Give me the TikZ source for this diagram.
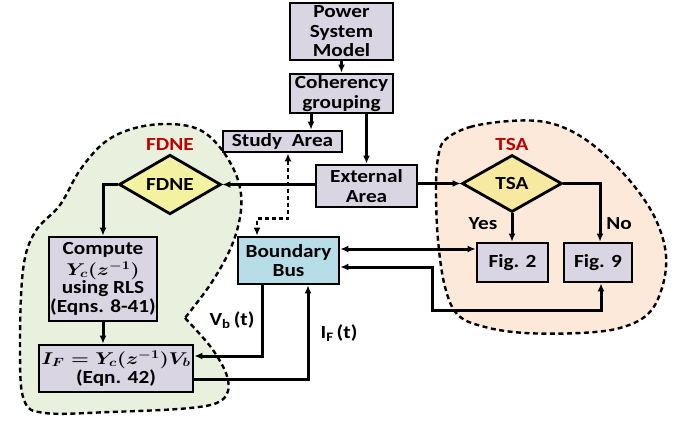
\RequirePackage{fix-cm}
\documentclass[tikz,border=0pt]{standalone}
\usepackage{amsmath}
\usepackage{fontspec}
\setmainfont{Carlito}[FakeStretch=1.15]
\usetikzlibrary{shapes.geometric,arrows.meta,calc}
\definecolor{boxfill}{RGB}{218,213,226}
\definecolor{busfill}{RGB}{183,222,232}
\definecolor{dmdfill}{RGB}{242,242,160}
\definecolor{tsafill}{RGB}{247,234,160}
\definecolor{greenblob}{RGB}{233,240,222}
\definecolor{peachblob}{RGB}{252,233,218}
\definecolor{redlbl}{RGB}{192,0,0}
\newcommand\mytxt{\fontsize{18.5}{19.5}\selectfont\bfseries}
\newcommand\mymath[1]{\scalebox{1.2}[1]{\fontsize{17}{18}\selectfont\mathversion{bold}$#1$}}
\begin{document}
\begin{tikzpicture}[x=1pt,y=-1pt,
  box/.style={draw, line width=2.8pt, fill=boxfill, align=center, inner sep=0pt, font=\mytxt},
  dmd/.style={draw, diamond, line width=2.8pt, fill=dmdfill, inner sep=0pt, font=\mytxt},
  arr/.style={line width=3pt, -{Latex[length=8pt,width=7pt]}},
  darr/.style={line width=3pt, {Latex[length=8pt,width=7pt]}-{Latex[length=8pt,width=7pt]}},
  ddarr/.style={line width=2.8pt, dash pattern=on 4pt off 3pt, {Latex[length=8pt,width=7pt]}-{Latex[length=8pt,width=7pt]}},
  blob/.style={line width=2.4pt, dash pattern=on 5pt off 3.5pt},
  lbl/.style={font=\mytxt, inner sep=0pt},
  rlbl/.style={font=\mytxt, text=redlbl, inner sep=0pt}]
\useasboundingbox (0,0) rectangle (677,422);

% regions
\draw[blob, fill=greenblob] plot[smooth, tension=0.6] coordinates {
 (185,318) (213,350) (228,380) (222,400) (190,408) (110,412) (45,413) (24,400)
 (20,350) (23,270) (35,232) (60,205) (80,170) (105,142) (135,128) (170,124)
 (200,130) (222,150) (238,180) (241,210) (232,245) (212,282) (185,318)} -- cycle;
\draw[blob, fill=peachblob] plot[smooth cycle, tension=0.6] coordinates {
 (445,140) (470,127) (510,121) (545,122) (575,133) (605,155) (635,187) (656,220)
 (666,255) (662,288) (648,314) (620,328) (580,333) (525,333) (485,327) (458,315)
 (445,287) (438,240) (436,190) (438,158)};

% nodes
\node[box, minimum width=103pt, minimum height=57pt] (psm) at (341.5,31.5) {Power\\System\\Model};
\node[box, minimum width=103pt, minimum height=39pt] (coh) at (341.5,93.5) {Coherency\\grouping};
\node[box, minimum width=119pt, minimum height=21pt] (study) at (282.5,141.5) {Study~~Area};
\node[box, minimum width=101pt, minimum height=42pt] (ext) at (366.5,186) {External\\Area};
\node[dmd, minimum width=102pt, minimum height=59pt] (fdne) at (170,184.5) {FDNE};
\node[dmd, fill=tsafill, minimum width=100pt, minimum height=57pt] (tsa) at (512,183.5) {TSA};
\node[box, minimum width=108pt, minimum height=84pt] (comp) at (103,279) {Compute\\[1.5pt] \mymath{Y_c(z^{-1})}\\[-1.5pt] using RLS\\[0pt](Eqns. 8-41)};
\node[box, minimum width=154pt, minimum height=47pt] (ifn) at (116,368.5) {\mymath{I_F = Y_c(z^{-1})V_b}\\(Eqn. 42)};
\node[box, fill=busfill, minimum width=101pt, minimum height=47pt] (bus) at (288.5,260.5) {Boundary\\Bus};
\node[box, minimum width=71pt, minimum height=39pt] (fig2) at (512.5,262.5) {Fig. 2};
\node[box, minimum width=68pt, minimum height=39pt] (fig9) at (598,262.5) {Fig. 9};

% labels
\node[rlbl] (lfdne) at (170,145) {FDNE};
\node[rlbl] (ltsa) at (512,144) {TSA};
\node[lbl] (lyes) at (483,224) {Yes};
\node[lbl] (lno) at (619,224) {No};
\node[lbl] (lvb) at (232,320) {V\textsubscript{b}\,(t)};
\node[lbl] (lif) at (339,333) {I\textsubscript{F}\,(t)};

% connectors
\draw[arr] (psm) -- (coh);
\draw[arr] ([xshift=-30.5pt]coh.south) -- ([xshift=-30.5pt]coh.south |- study.north);
\draw[arr] (coh.south -| ext.north) -- (ext.north);
\draw[arr] (fdne.east -| ext.west) -- (fdne.east);
\draw[arr] (tsa.west -| ext.east) -- (tsa.west);
\draw[arr] (fdne.west) -| (comp.north);
\draw[arr] (comp.south) -- (comp.south |- ifn.north);
\draw[arr] ([xshift=-26.5pt]bus.south) |- ([yshift=12.5pt]ifn.east);
\draw[arr] ([yshift=-10.5pt]ifn.east) -| ([xshift=19.5pt]bus.south);
\draw[darr] ([yshift=11.5pt]bus.east) -- ([yshift=11.5pt]bus.east -| fig2.west);
\draw[darr] ([yshift=-6.5pt]bus.east) -- ++(92,0) |- ([xshift=3pt,yshift=-27pt]fig9.south) -- ([xshift=3pt]fig9.south);
\draw[arr] (tsa.south) -- (tsa.south |- fig2.north);
\draw[arr] (tsa.east) -| ([xshift=2pt]fig9.north);
\draw[ddarr] ([xshift=5.5pt]study.south) -- ++(0,65) -| ([xshift=-31.5pt]bus.north);
\end{tikzpicture}
\end{document}
